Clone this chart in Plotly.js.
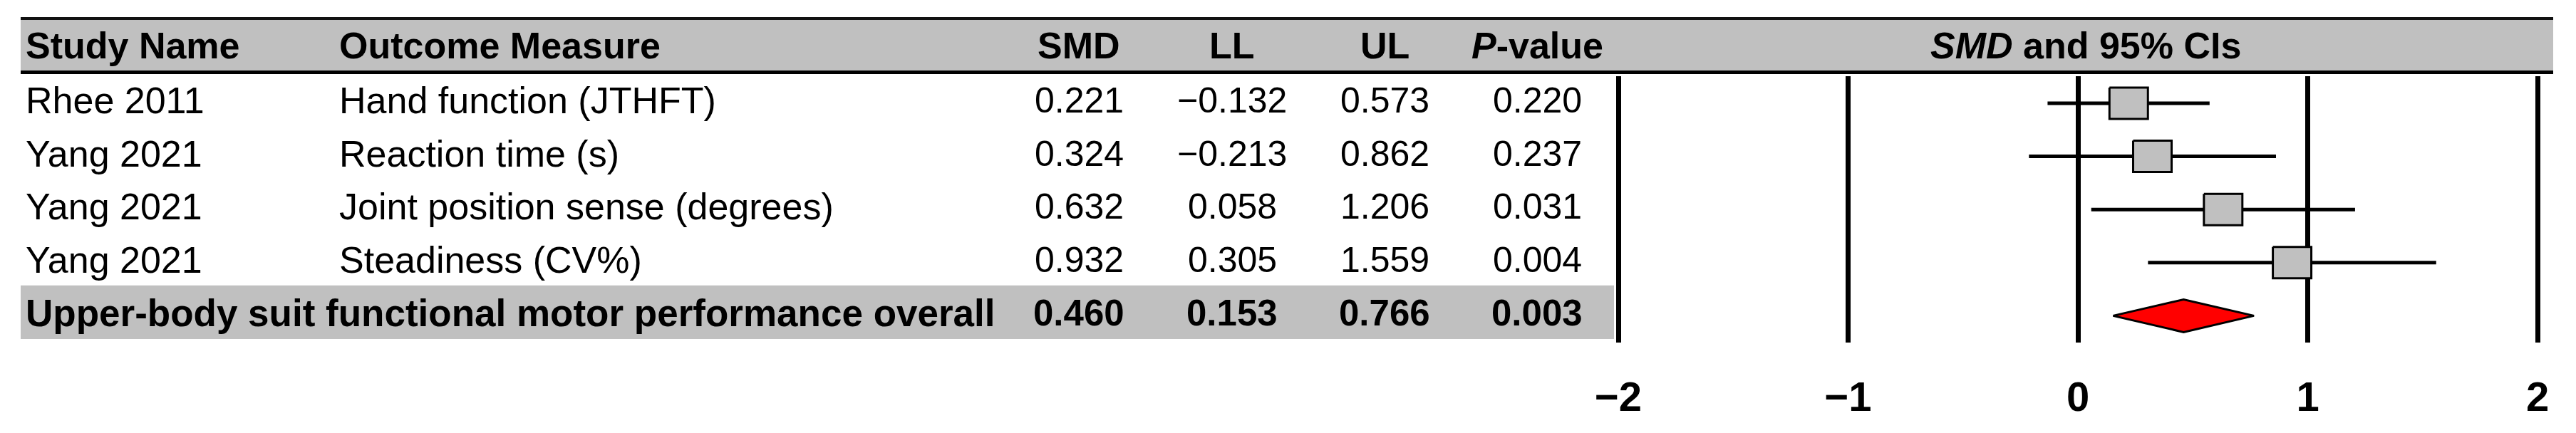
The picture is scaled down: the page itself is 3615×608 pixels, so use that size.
<!DOCTYPE html>
<html>
<head>
<meta charset="utf-8">
<script src="https://cdn.plot.ly/plotly-3.0.1.min.js"></script>
<style>
  html, body { margin: 0; padding: 0; background: #fff; }
  #chart { width: 3615px; height: 608px; }
</style>
</head>
<body>
<div id="chart"></div>
<script>
// Studies
var studyNames = ['Rhee 2011', 'Yang 2021', 'Yang 2021', 'Yang 2021'];
var outcomes = ['Hand function (JTHFT)', 'Reaction time (s)', 'Joint position sense (degrees)', 'Steadiness (CV%)'];
var smd = [0.221, 0.324, 0.632, 0.932];
var lower = [-0.132, -0.213, 0.058, 0.305];
var upper = [0.573, 0.862, 1.206, 1.559];
var pValues = [0.220, 0.237, 0.031, 0.004];

// Overall
var overallLabel = 'Upper-body suit functional motor performance overall';
var overallSmd = 0.460;
var overallLower = 0.153;
var overallUpper = 0.766;
var overallP = 0.003;

// Axis
var tickVals = [-2, -1, 0, 1, 2];
var tickText = ['\u22122', '\u22121', '0', '1', '2'];

// Column headers
var headers = ['Study Name', 'Outcome Measure', 'SMD', 'LL', 'UL', '<i>P</i>-value'];
var plotHeader = '<i>SMD</i> and 95% CIs';

var W = 3615;
var FONT = 'Liberation Sans, Arial, sans-serif';
var GRAY = '#c0c0c0';

function fmt(v) {
  return v.toFixed(3).replace('-', '\u2212');
}
function px(x) { return x / W; }
// paper y from pixel (plot area is 107..481)
function py(p) { return (481 - p) / 374; }

var rows = studyNames.map(function (d, i) { return i; });
var overallRow = studyNames.length;

// CI lines
var ciX = [], ciY = [];
for (var i = 0; i < smd.length; i++) {
  ciX.push(lower[i], upper[i], null);
  ciY.push(rows[i], rows[i], null);
}

// boxes (a bit wider than tall, as in the original)
var hw = 0.0837, hh = 0.295;
var boxX = [], boxY = [];
for (var i = 0; i < smd.length; i++) {
  boxX.push(smd[i] - hw, smd[i] + hw, smd[i] + hw, smd[i] - hw, smd[i] - hw, null);
  boxY.push(rows[i] - hh, rows[i] - hh, rows[i] + hh, rows[i] + hh, rows[i] - hh, null);
}

var dh = 0.308;
var diamond = {
  x: [overallLower, overallSmd, overallUpper, overallSmd, overallLower],
  y: [overallRow, overallRow - dh, overallRow, overallRow + dh, overallRow],
  type: 'scatter', mode: 'lines', fill: 'toself', fillcolor: '#ff0000',
  line: { color: '#000', width: 3 }, hoverinfo: 'skip', showlegend: false
};

var data = [
  { x: ciX, y: ciY, type: 'scatter', mode: 'lines', line: { color: '#000', width: 5 }, hoverinfo: 'skip', showlegend: false },
  { x: boxX, y: boxY, type: 'scatter', mode: 'lines', fill: 'toself', fillcolor: GRAY, line: { color: '#000', width: 3 }, hoverinfo: 'skip', showlegend: false },
  diamond
];

// Table text
var colX = [34, 474, 1514, 1729, 1943, 2157];
var colAnchor = ['left', 'left', 'center', 'center', 'center', 'center'];
var annotations = [];
var YS = 4;

function addText(text, x, anchor, y, yref, size) {
  annotations.push({
    text: text, xref: 'paper', x: px(x), xanchor: anchor,
    yref: yref, y: y, yanchor: 'middle', yshift: yref === 'y' ? YS : 0,
    showarrow: false, font: { family: FONT, size: size, color: '#000' }
  });
}

headers.forEach(function (h, c) {
  addText('<b>' + h + '</b>', colX[c], colAnchor[c], py(64), 'paper', 52);
});
addText('<b>' + plotHeader + '</b>', 2927, 'center', py(64), 'paper', 52);

for (var i = 0; i < studyNames.length; i++) {
  var cells = [studyNames[i], outcomes[i], fmt(smd[i]), fmt(lower[i]), fmt(upper[i]), fmt(pValues[i])];
  cells.forEach(function (t, c) {
    addText(t, colX[c], colAnchor[c], rows[i], 'y', c < 2 ? 52 : 50);
  });
}
var overallCells = [overallLabel, '', fmt(overallSmd), fmt(overallLower), fmt(overallUpper), fmt(overallP)];
overallCells.forEach(function (t, c) {
  if (t) addText('<b>' + t + '</b>', colX[c], colAnchor[c], overallRow, 'y', c < 2 ? 53 : 51);
});

var shapes = [
  // header band
  { type: 'rect', xref: 'paper', yref: 'paper', x0: px(29), x1: px(3583), y0: py(99), y1: py(28), fillcolor: GRAY, line: { width: 0 }, layer: 'below' },
  { type: 'line', xref: 'paper', yref: 'paper', x0: px(29), x1: px(3583), y0: py(26), y1: py(26), line: { color: '#111', width: 4 } },
  { type: 'line', xref: 'paper', yref: 'paper', x0: px(29), x1: px(3583), y0: py(101.5), y1: py(101.5), line: { color: '#000', width: 5 } },
  // overall band
  { type: 'rect', xref: 'paper', yref: 'y', x0: px(29), x1: px(2265), y0: overallRow - 0.572, y1: overallRow + 0.437, fillcolor: GRAY, line: { width: 0 }, layer: 'below' }
];

var layout = {
  width: 3615,
  height: 608,
  margin: { l: 0, r: 0, t: 107, b: 127 },
  paper_bgcolor: '#fff',
  plot_bgcolor: 'rgba(0,0,0,0)',
  showlegend: false,
  xaxis: {
    // range padded a little so the -2 grid line is drawn
    domain: [px(2271 - 6.45), px(3561 + 6.45)],
    range: [-2.02, 2.02],
    tickvals: tickVals,
    ticktext: tickText.map(function (t) { return '<b>' + t + '</b>'; }),
    tickfont: { family: FONT, size: 58, color: '#000' },
    ticks: '',
    ticklabelstandoff: 37,
    showgrid: true,
    gridcolor: '#000',
    gridwidth: 7,
    zeroline: false,
    showline: false,
    fixedrange: true
  },
  yaxis: {
    range: [4.504, -0.509],
    showgrid: false,
    zeroline: false,
    showticklabels: false,
    ticks: '',
    showline: false,
    fixedrange: true
  },
  shapes: shapes,
  annotations: annotations
};

Plotly.newPlot('chart', data, layout, { displayModeBar: false, staticPlot: true });
</script>
</body>
</html>
